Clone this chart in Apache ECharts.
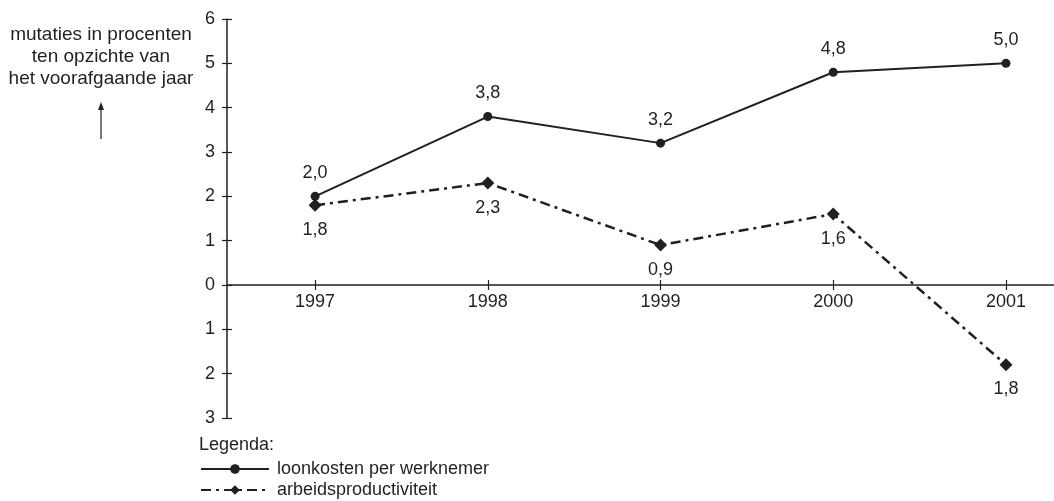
<!DOCTYPE html>
<html>
<head>
<meta charset="utf-8">
<script src="https://cdn.jsdelivr.net/npm/echarts@6/dist/echarts.min.js"></script>
<style>html,body{margin:0;padding:0;background:#fff}#c{width:1054px;height:501px}</style>
</head>
<body>
<div id="c"></div>
<script>
const years = [1997, 1998, 1999, 2000, 2001];
const loonkosten = [2.0, 3.8, 3.2, 4.8, 5.0];
const arbeidsproductiviteit = [1.8, 2.3, 0.9, 1.6, -1.8];
const yTicks = [-3, -2, -1, 0, 1, 2, 3, 4, 5, 6];
const seriesNames = ['loonkosten per werknemer', 'arbeidsproductiviteit'];
const yTitle = ['mutaties in procenten', 'ten opzichte van', 'het voorafgaande jaar'];

const INK = '#231f20';
const FONT = 'Liberation Sans, Arial, sans-serif';
const FS = 18;
const fmt = v => Math.abs(v).toFixed(1).replace('.', ',');
const pairs = arr => years.map((y, i) => [y, arr[i]]);
const yMin = yTicks[0], yMax = yTicks[yTicks.length - 1];

const chart = echarts.init(document.getElementById('c'), null, {renderer: 'canvas'});
const xRange = {type: 'value', min: 1996.49, max: 2001.278, splitLine: {show: false}};
const tickStyle = {color: INK, width: 1.2};
const titleText = (t, y) => ({type: 'text', x: 101, y: y, style: {text: t, font: '19px ' + FONT, fill: INK, align: 'center', verticalAlign: 'middle'}});
chart.setOption({
  animation: false,
  textStyle: {fontFamily: FONT, color: INK},
  grid: [
    {left: 227, right: 0, top: 19, bottom: 83, containLabel: false},
    // upper part of the plot (down to value 0): carries the visible year axis
    {left: 227, right: 0, top: 19, bottom: 216, containLabel: false}
  ],
  xAxis: [
    Object.assign({}, xRange, {gridIndex: 0, show: false}),
    Object.assign({}, xRange, {
      gridIndex: 1, position: 'bottom',
      axisLine: {show: true, onZero: false, lineStyle: {color: INK, width: 1.5}},
      axisTick: {show: true, customValues: years, length: 5, lineStyle: tickStyle},
      axisLabel: {show: true, customValues: years, fontSize: FS, color: INK, fontFamily: FONT, margin: 8, formatter: v => String(v)}
    }),
    Object.assign({}, xRange, {
      gridIndex: 1, position: 'bottom', offset: -5,
      axisLine: {show: false, onZero: false},
      axisTick: {show: true, customValues: years, length: 5, lineStyle: tickStyle},
      axisLabel: {show: false}
    })
  ],
  yAxis: [
    {
      type: 'value', gridIndex: 0, min: yMin, max: yMax, interval: 1, splitLine: {show: false},
      axisLine: {show: true, lineStyle: {color: INK, width: 1.5}},
      axisTick: {show: true, length: 5, lineStyle: tickStyle},
      axisLabel: {fontSize: FS, color: INK, fontFamily: FONT, margin: 12, formatter: v => String(Math.abs(v))}
    },
    {
      type: 'value', gridIndex: 0, min: yMin, max: yMax, interval: 1, splitLine: {show: false},
      position: 'left', offset: -5,
      axisLine: {show: false},
      axisTick: {show: true, length: 5, lineStyle: tickStyle},
      axisLabel: {show: false}
    },
    {
      type: 'value', gridIndex: 1, min: 0, max: yMax, show: false
    }
  ],
  legend: {
    orient: 'vertical', left: 200, top: 460, padding: 0, itemWidth: 68, itemHeight: 12, itemGap: 3,
    textStyle: {fontSize: FS, color: INK, fontFamily: FONT, padding: [0, 0, 0, 3]},
    data: seriesNames
  },
  graphic: [
    titleText(yTitle[0], 35),
    titleText(yTitle[1], 57),
    titleText(yTitle[2], 79),
    {type: 'line', shape: {x1: 101, y1: 139, x2: 101, y2: 108}, style: {stroke: INK, lineWidth: 1.2}},
    {type: 'polygon', shape: {points: [[101, 102], [98, 110], [104, 110]]}, style: {fill: INK}},
    {type: 'text', x: 199, y: 445, style: {text: 'Legenda:', font: FS + 'px ' + FONT, fill: INK, verticalAlign: 'middle'}}
  ],
  series: [
    {
      name: seriesNames[0], type: 'line', xAxisIndex: 0, yAxisIndex: 0, data: pairs(loonkosten),
      symbol: 'circle', symbolSize: 9,
      lineStyle: {color: INK, width: 2, type: 'solid'},
      itemStyle: {color: INK},
      label: {show: true, position: 'top', distance: 10, fontSize: FS, color: INK, fontFamily: FONT, formatter: p => fmt(p.value[1])}
    },
    {
      name: seriesNames[1], type: 'line', xAxisIndex: 0, yAxisIndex: 0, data: pairs(arbeidsproductiviteit),
      symbol: 'diamond', symbolSize: 13,
      lineStyle: {color: INK, width: 2.5, type: [10, 5, 3, 5]},
      itemStyle: {color: INK},
      label: {show: true, position: 'bottom', distance: 9, fontSize: FS, color: INK, fontFamily: FONT, formatter: p => fmt(p.value[1])}
    }
  ]
});
</script>
</body>
</html>
